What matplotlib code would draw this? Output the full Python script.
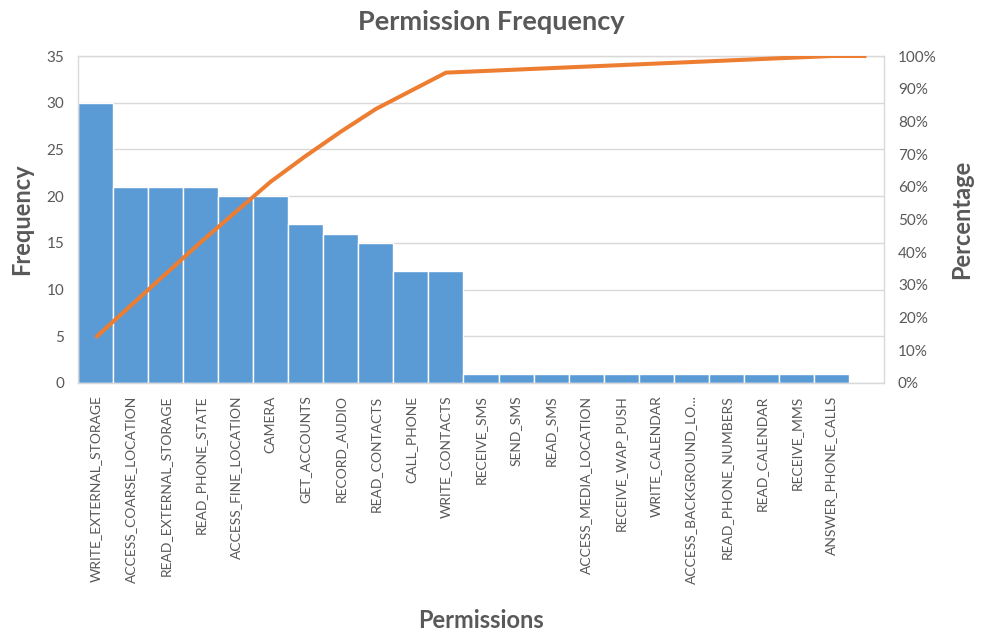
import matplotlib
matplotlib.use("Agg")
import matplotlib.pyplot as plt
import numpy as np
from matplotlib.ticker import FixedLocator, FuncFormatter

plt.rcParams['font.family'] = ['Lato', 'DejaVu Sans']

categories = ["WRITE_EXTERNAL_STORAGE", "ACCESS_COARSE_LOCATION", "READ_EXTERNAL_STORAGE",
              "READ_PHONE_STATE", "ACCESS_FINE_LOCATION", "CAMERA", "GET_ACCOUNTS",
              "RECORD_AUDIO", "READ_CONTACTS", "CALL_PHONE", "WRITE_CONTACTS", "RECEIVE_SMS",
              "SEND_SMS", "READ_SMS", "ACCESS_MEDIA_LOCATION", "RECEIVE_WAP_PUSH",
              "WRITE_CALENDAR", "ACCESS_BACKGROUND_LO...", "READ_PHONE_NUMBERS",
              "READ_CALENDAR", "RECEIVE_MMS", "ANSWER_PHONE_CALLS", ""]
frequency = [30, 21, 21, 21, 20, 20, 17, 16, 15, 12, 12, 1, 1, 1, 1, 1, 1, 1, 1, 1, 1, 1, 0]

freq = np.array(frequency, dtype=float)
cum_pct = np.cumsum(freq) / freq.sum() * 100

TXT = '#595959'
fig = plt.figure(figsize=(9.83, 6.34), dpi=100)
ax = fig.add_axes([78/983, 1-383/634, (884-78)/983, (383-56)/634])
x = np.arange(len(categories))
ax.bar(x, freq, width=1.0, color='#5B9BD5', edgecolor='white', linewidth=1.0, zorder=2)
ax.set_xlim(-0.5, len(categories)-0.5)
ax.set_ylim(0, 35)
ax.yaxis.set_major_locator(FixedLocator(np.arange(0, 36, 5)))
ax.grid(axis='y', color='#D9D9D9', linewidth=1.0, zorder=0)
ax.set_axisbelow(True)
for s in ax.spines.values():
    s.set_color('#D9D9D9')
    s.set_linewidth(1.0)
ax.set_xticks(x)
ax.set_xticklabels(categories, rotation=90, fontsize=10, color=TXT)
ax.tick_params(axis='both', length=0, colors=TXT)
ax.tick_params(axis='x', pad=9)
ax.tick_params(axis='y', labelsize=11, pad=10)
ax.set_ylabel('Frequency', fontsize=17, fontweight='bold', color=TXT, va='center')
ax.yaxis.set_label_coords((22-78)/806, 0.5)
ax.set_xlabel('Permissions', fontsize=17, fontweight='bold', color=TXT, va='center')
ax.xaxis.set_label_coords((481-78)/806, (383-621)/327)

ax2 = ax.twinx()
ax2.plot(x, cum_pct, color='#ED7D31', linewidth=2.9, solid_capstyle='butt', zorder=3)
ax2.set_ylim(0, 100)
ax2.yaxis.set_major_locator(FixedLocator(np.arange(0, 101, 10)))
ax2.yaxis.set_major_formatter(FuncFormatter(lambda v, p: f"{int(v)}%"))
ax2.tick_params(axis='y', length=0, colors=TXT, labelsize=11, pad=10)
for s in ax2.spines.values():
    s.set_visible(False)
ax2.set_ylabel('Percentage', fontsize=17, fontweight='bold', color=TXT, va='center')
ax2.yaxis.set_label_coords((962-78)/806, 0.5)

fig.text(491/983, 1-22/634, 'Permission Frequency', ha='center', va='center',
         fontsize=19.5, fontweight='bold', color=TXT)

fig.savefig('out.png', dpi=100)
